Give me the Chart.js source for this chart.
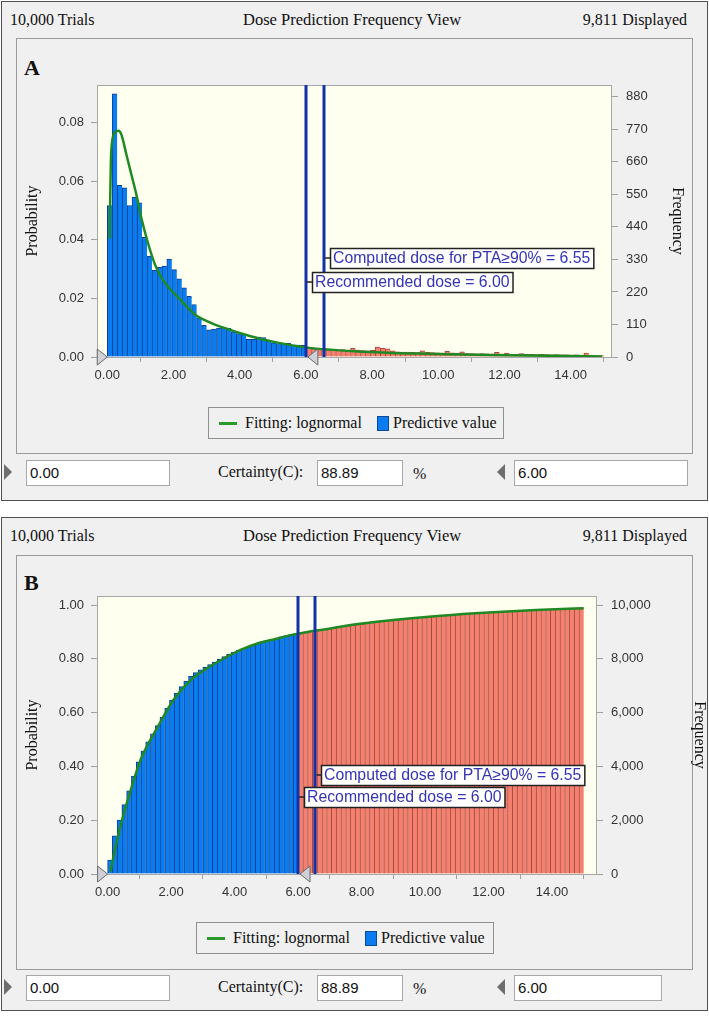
<!DOCTYPE html>
<html><head><meta charset="utf-8">
<script src="https://cdn.jsdelivr.net/npm/chart.js@4.4.0/dist/chart.umd.min.js"></script>
<style>
body{margin:0;width:709px;height:1020px;background:#fff;position:relative;overflow:hidden;font-family:"Liberation Serif","Times New Roman",serif;color:#111;}
.abs{position:absolute;}
.outer{position:absolute;border:1px solid #505050;background:#f0f0f0;box-sizing:border-box;}
.inner{position:absolute;border:1px solid #9a9a9a;background:#f0f0f0;box-sizing:border-box;}
.hdr{position:absolute;font-size:16px;white-space:nowrap;line-height:18px;}
.letter{position:absolute;font-weight:bold;font-size:22px;line-height:24px;}
.legend{position:absolute;border:1px solid #8f8f8f;background:#f0f0f0;box-sizing:border-box;font-size:16px;white-space:nowrap;}
.legend span{position:absolute;}
.inp{position:absolute;background:#fff;border:1px solid #a8a8a8;box-sizing:border-box;font-family:"Liberation Sans",Arial,sans-serif;font-size:15px;line-height:24px;padding-left:3px;color:#111;}
.lbl{position:absolute;font-size:16px;white-space:nowrap;line-height:18px;}
.triR{position:absolute;width:0;height:0;border-top:8px solid transparent;border-bottom:8px solid transparent;border-left:8px solid #6e6e6e;}
.triL{position:absolute;width:0;height:0;border-top:8px solid transparent;border-bottom:8px solid transparent;border-right:8px solid #6e6e6e;}
canvas{position:absolute;}
</style>
</head><body>

<!-- Panel A -->
<div class="outer" style="left:1px;top:1px;width:707px;height:500px;"></div>
<div class="hdr" style="left:10px;top:11px;">10,000 Trials</div>
<div class="hdr" style="left:243px;top:11px;font-size:16.5px;">Dose Prediction Frequency View</div>
<div class="hdr" style="right:22px;top:11px;">9,811 Displayed</div>
<div class="inner" style="left:16px;top:38px;width:677px;height:416px;"></div>
<div class="letter" style="left:24px;top:56px;">A</div>
<div class="abs" style="left:16px;top:38px;width:677px;height:416px;"><canvas id="chartA" width="677" height="416" style="left:0;top:0;width:677px;height:416px;"></canvas></div>
<div class="legend" style="left:208px;top:407px;width:296px;height:32px;">
  <span style="left:10px;top:14px;width:18px;height:3px;background:#2a9a2a;"></span>
  <span id="legA1" style="left:36px;top:6px;"></span>
  <span style="left:168px;top:8px;width:12px;height:15px;background:#0a7cf0;border:1px solid #0a4a9a;box-sizing:border-box;"></span>
  <span id="legA2" style="left:184px;top:6px;"></span>
</div>
<div class="triR" style="left:4px;top:464px;"></div>
<div class="inp" style="left:26px;top:460px;width:144px;height:26px;" id="loA"></div>
<div class="lbl" style="left:218px;top:463px;">Certainty(C):</div>
<div class="inp" style="left:317px;top:460px;width:86px;height:26px;" id="certA"></div>
<div class="lbl" style="left:413px;top:465px;">%</div>
<div class="triL" style="left:497px;top:464px;"></div>
<div class="inp" style="left:514px;top:460px;width:174px;height:26px;" id="hiA"></div>

<!-- Panel B -->
<div class="outer" style="left:1px;top:517px;width:707px;height:494px;"></div>
<div class="hdr" style="left:10px;top:527px;">10,000 Trials</div>
<div class="hdr" style="left:243px;top:527px;font-size:16.5px;">Dose Prediction Frequency View</div>
<div class="hdr" style="right:22px;top:527px;">9,811 Displayed</div>
<div class="inner" style="left:16px;top:555px;width:677px;height:415px;"></div>
<div class="letter" style="left:24px;top:571px;">B</div>
<div class="abs" style="left:16px;top:555px;width:692px;height:415px;"><canvas id="chartB" width="692" height="415" style="left:0;top:0;width:692px;height:415px;"></canvas></div>
<div class="legend" style="left:196px;top:922px;width:298px;height:32px;">
  <span style="left:10px;top:14px;width:18px;height:3px;background:#2a9a2a;"></span>
  <span id="legB1" style="left:36px;top:6px;"></span>
  <span style="left:168px;top:8px;width:12px;height:15px;background:#0a7cf0;border:1px solid #0a4a9a;box-sizing:border-box;"></span>
  <span id="legB2" style="left:184px;top:6px;"></span>
</div>
<div class="triR" style="left:4px;top:979px;"></div>
<div class="inp" style="left:26px;top:975px;width:144px;height:26px;" id="loB"></div>
<div class="lbl" style="left:218px;top:978px;">Certainty(C):</div>
<div class="inp" style="left:317px;top:975px;width:86px;height:26px;" id="certB"></div>
<div class="lbl" style="left:413px;top:980px;">%</div>
<div class="triL" style="left:497px;top:979px;"></div>
<div class="inp" style="left:514px;top:975px;width:148px;height:26px;" id="hiB"></div>

<script>
// ---------------- DATA ----------------
const binWidth = 0.15;           // histogram bin width (dose units), bins start at 0.00
// Panel A: probability per bin
const probA = [
 0.0517,0.0898,0.0586,0.0577,0.0517,0.0545,0.0526,0.0408,0.0344,0.0296,
 0.0306,0.0310,0.0334,0.0298,0.0267,0.0236,0.0207,0.0179,0.0134,0.0108,
 0.0093,0.0095,0.0099,0.0101,0.0099,0.0086,0.0080,0.0077,0.0060,0.0060,
 0.0068,0.0066,0.0055,0.0048,0.0046,0.0047,0.0047,0.0041,0.0041,0.0040,
 0.0030,0.0028,0.0027,0.0026,0.0025,0.0026,0.0024,0.0025,0.0022,0.0030,
 0.0024,0.0022,0.0021,0.0023,0.0034,0.0030,0.0028,0.0021,0.0018,0.0017,
 0.0017,0.0016,0.0015,0.0021,0.0016,0.0015,0.0014,0.0013,0.0019,0.0014,
 0.0013,0.0018,0.0012,0.0012,0.0011,0.0012,0.0011,0.0010,0.0016,0.0010,
 0.0013,0.0009,0.0010,0.0012,0.0009,0.0009,0.0008,0.0009,0.0008,0.0007,
 0.0008,0.0007,0.0007,0.0006,0.0007,0.0006,0.0013,0.0006,0.0005,0.0005
];
// Panel B: cumulative probability per bin
const cumB = [
 0.0517,0.1415,0.2001,0.2578,0.3095,0.3640,0.4166,0.4574,0.4918,0.5214,
 0.5520,0.5830,0.6164,0.6462,0.6729,0.6965,0.7172,0.7351,0.7485,0.7593,
 0.7686,0.7781,0.7880,0.7981,0.8080,0.8166,0.8246,0.8323,0.8383,0.8443,
 0.8511,0.8577,0.8632,0.8680,0.8726,0.8773,0.8820,0.8861,0.8902,0.8942,
 0.8972,0.9000,0.9027,0.9053,0.9078,0.9104,0.9128,0.9153,0.9175,0.9205,
 0.9229,0.9251,0.9272,0.9295,0.9329,0.9359,0.9387,0.9408,0.9426,0.9443,
 0.9460,0.9476,0.9491,0.9512,0.9528,0.9543,0.9557,0.9570,0.9589,0.9603,
 0.9616,0.9634,0.9646,0.9658,0.9669,0.9681,0.9692,0.9702,0.9718,0.9728,
 0.9741,0.9750,0.9760,0.9772,0.9781,0.9790,0.9798,0.9807,0.9815,0.9822,
 0.9830,0.9837,0.9844,0.9850,0.9857,0.9863,0.9876,0.9882,0.9887,0.9892
];
// Lognormal fit curves
const fitAx = [0.07,0.12,0.22,0.34,0.43,0.58,0.73,0.88,1.03,1.23,1.44,1.64,1.95,2.25,2.65,3.06,3.51,4.33,5.14,6.05,7.57,9.6,11.6,13.5,14.95];
const fitAy = [0.0404,0.0701,0.0764,0.0772,0.0758,0.0690,0.0622,0.0554,0.0474,0.0389,0.0316,0.0270,0.0225,0.0191,0.0145,0.0120,0.0100,0.0071,0.0049,0.0032,0.0019,0.0011,0.0007,0.0004,0.0002];
const fitBx = [0.09,0.25,0.51,0.73,1.04,1.57,2.09,2.62,3.14,3.67,4.19,4.72,5.24,5.77,6.30,6.82,7.66,9.0,10.5,12.0,13.5,15.0];
const fitBy = [0.009,0.100,0.225,0.312,0.425,0.545,0.650,0.721,0.765,0.802,0.833,0.857,0.872,0.888,0.900,0.909,0.926,0.944,0.960,0.972,0.981,0.988];
// Ticks
const xTicks = [0,2,4,6,8,10,12,14];
const probTicksA = [0,0.02,0.04,0.06,0.08];
const freqTicksA = [0,110,220,330,440,550,660,770,880];
const probTicksB = [0,0.2,0.4,0.6,0.8,1.0];
const freqTicksB = [0,2000,4000,6000,8000,10000];
// Markers and texts
const doseLines = [6.00, 6.55];
const doseLabels = ['Recommended dose = 6.00', 'Computed dose for PTA\u226590% = 6.55'];
const certaintyLow = 0.00, certaintyHigh = 6.00, certainty = 88.89;
const seriesNames = ['Fitting: lognormal', 'Predictive value'];

// ---------------- HTML texts ----------------
['A','B'].forEach(p=>{
  document.getElementById('leg'+p+'1').textContent = seriesNames[0];
  document.getElementById('leg'+p+'2').textContent = seriesNames[1];
  document.getElementById('lo'+p).textContent = certaintyLow.toFixed(2);
  document.getElementById('hi'+p).textContent = certaintyHigh.toFixed(2);
  document.getElementById('cert'+p).textContent = certainty.toFixed(2);
});

// ---------------- Chart helpers ----------------
const BLUE='#0a7cf0', BLUE_B='#0a3f92', RED='#f4806f', RED_B='#a4483e', GREEN='#1f8a23';
const binStarts = probA.map((_,i)=>+(i*binWidth).toFixed(2));

const decor = {
  id:'decor',
  beforeDatasetsDraw(chart, args, o){
    const {ctx, chartArea:a} = chart;
    ctx.save(); ctx.fillStyle='#fffff0'; ctx.fillRect(a.left,a.top,a.right-a.left,a.bottom-a.top); ctx.restore();
  },
  afterDatasetsDraw(chart, args, o){
    const {ctx, chartArea:a, scales:{x,y}} = chart;
    ctx.save();
    ctx.strokeStyle='#a8a8a8'; ctx.lineWidth=1;
    ctx.strokeRect(a.left+0.5,a.top+0.5,a.right-a.left-1,a.bottom-a.top);
    // vertical dose lines
    ctx.strokeStyle='#1432a8'; ctx.lineWidth=3;
    doseLines.forEach(d=>{ const px=Math.round(x.getPixelForValue(d)); ctx.beginPath(); ctx.moveTo(px,a.top); ctx.lineTo(px,a.bottom); ctx.stroke(); });
    // labels
    ctx.font='15.8px "Liberation Sans", Arial, sans-serif';
    ctx.textBaseline='middle';
    doseLabels.forEach((t,i)=>{
      const px=x.getPixelForValue(doseLines[i]);
      const py=Math.round(y.getPixelForValue(o.labelY[i]));
      const w=ctx.measureText(t).width+6, h=20;
      const bx=Math.round(px+6);
      ctx.strokeStyle='#222'; ctx.lineWidth=1.5;
      ctx.beginPath(); ctx.moveTo(px+1,py); ctx.lineTo(bx,py); ctx.stroke();
      ctx.fillStyle='#fff'; ctx.fillRect(bx,py-h/2,w,h);
      ctx.lineWidth=1.5; ctx.strokeRect(bx+0.5,py-h/2+0.5,w,h);
      ctx.fillStyle='#3434b4'; ctx.fillText(t,bx+3,py+1);
    });
    // grab triangles
    const by=a.bottom;
    const tri=(tip,dir)=>{ ctx.beginPath(); ctx.moveTo(tip,by); ctx.lineTo(tip-10*dir,by-8); ctx.lineTo(tip-10*dir,by+8); ctx.closePath();
      ctx.fillStyle='#d0d0d8'; ctx.fill(); ctx.strokeStyle='#6a6a6a'; ctx.lineWidth=1; ctx.stroke(); };
    tri(x.getPixelForValue(certaintyLow), 1);
    tri(x.getPixelForValue(certaintyHigh)+2, -1);
    ctx.restore();
  }
};

function makeChart(id, cfg){
  const tickFont={family:'"Liberation Sans", Arial, sans-serif', size:13};
  const titleFont={family:'"Liberation Serif", "Times New Roman", serif', size:16};
  const gridOpts={display:true, drawOnChartArea:false, drawTicks:true, tickLength:6, color:'#a0a0a0'};
  return new Chart(document.getElementById(id), {
    type:'bar',
    data:{datasets:[
      {type:'line', label:seriesNames[0], data:cfg.fitX.map((v,i)=>({x:v,y:cfg.fitY[i]})), borderColor:GREEN, borderWidth:2.5,
       pointRadius:0, cubicInterpolationMode:'monotone', fill:false, yAxisID:'y'},
      {type:'bar', label:seriesNames[1], data:binStarts.map((s,i)=>({x:s+binWidth/2,y:cfg.bars[i]})),
       backgroundColor:binStarts.map(s=>s<certaintyHigh-1e-9?BLUE:RED),
       borderColor:binStarts.map(s=>s<certaintyHigh-1e-9?BLUE_B:RED_B),
       borderWidth:{top:1,left:1,right:0,bottom:0}, borderSkipped:false,
       barPercentage:1, categoryPercentage:1, yAxisID:'y'}
    ]},
    options:{
      responsive:false, animation:false, events:[],
      layout:{padding:{left:0,right:0,top:cfg.padTop,bottom:cfg.padBottom}},
      plugins:{legend:{display:false}, tooltip:{enabled:false}, decor:{labelY:cfg.labelY}},
      scales:{
        x:{type:'linear', min:cfg.xMin, max:cfg.xMax, offset:false,
           afterBuildTicks:s=>{s.ticks=xTicks.map(v=>({value:v}));},
           afterFit:s=>{s.height=30;},
           ticks:{font:tickFont, color:'#333', padding:6, maxRotation:0, callback:v=>Number(v).toFixed(2)},
           grid:{...gridOpts, tickLength:5}, border:{display:false}},
        y:{position:'left', min:0, max:cfg.yMax,
           afterBuildTicks:s=>{s.ticks=cfg.probTicks.map(v=>({value:v}));},
           afterFit:s=>{s.width=81;},
           ticks:{font:tickFont, color:'#333', padding:7, callback:v=>Number(v).toFixed(2)},
           title:{display:true, text:'Probability', font:titleFont, color:'#111', padding:{top:cfg.leftTitlePad,bottom:0}},
           grid:gridOpts, border:{display:false}},
        y2:{position:'right', min:0, max:cfg.y2Max,
           afterBuildTicks:s=>{s.ticks=cfg.freqTicks.map(v=>({value:v}));},
           afterFit:s=>{s.width=cfg.rightW;},
           ticks:{font:tickFont, color:'#333', padding:8, callback:v=>Number(v).toLocaleString('en-US')},
           title:{display:true, text:'Frequency', font:titleFont, color:'#111', padding:{top:cfg.rightTitlePad,bottom:0}},
           grid:gridOpts, border:{display:false}}
      }
    },
    plugins:[decor]
  });
}

makeChart('chartA', {fitX:fitAx, fitY:fitAy, bars:probA, probTicks:probTicksA, freqTicks:freqTicksA,
  xMin:-0.31, xMax:15.25, yMax:0.0928, y2Max:920, padTop:47, padBottom:67, rightW:81,
  leftTitlePad:7, rightTitlePad:6, labelY:[0.0256,0.0337]});
makeChart('chartB', {fitX:fitBx, fitY:fitBy, bars:cumB, probTicks:probTicksB, freqTicks:freqTicksB,
  xMin:-0.334, xMax:15.42, yMax:1.0335, y2Max:10335, padTop:41, padBottom:66, rightW:111,
  leftTitlePad:7, rightTitlePad:-1, labelY:[0.286,0.368]});
</script>
</body></html>
